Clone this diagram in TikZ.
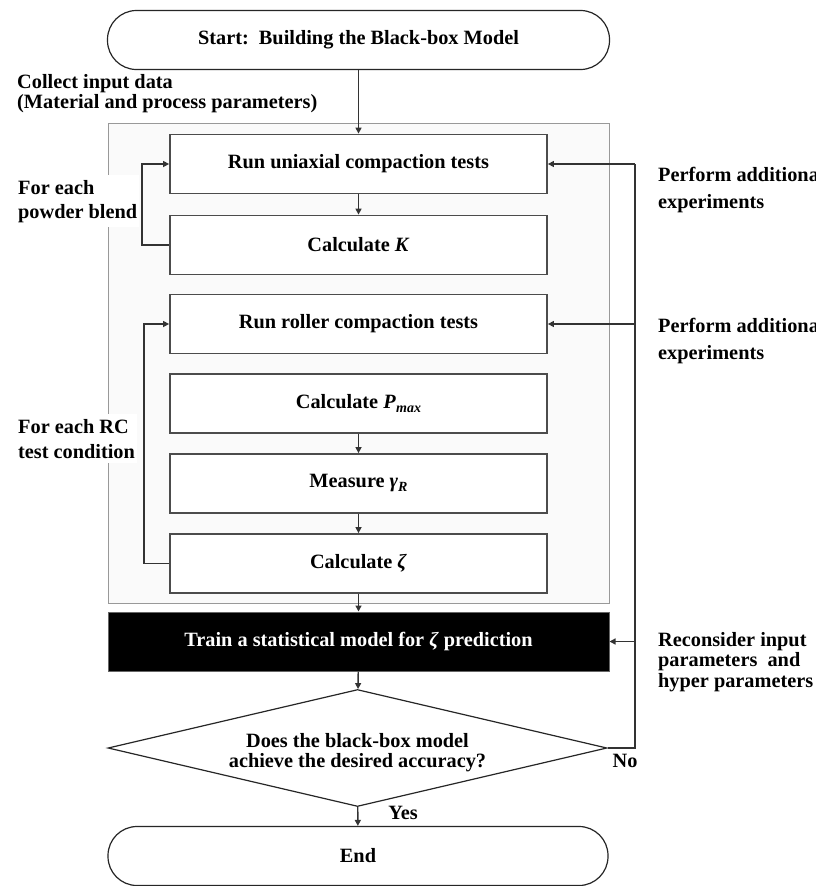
\documentclass[tikz,border=0pt]{standalone}
\usepackage{fontspec}
\setmainfont{Liberation Serif}
\usetikzlibrary{arrows.meta,shapes.geometric}
\newcommand\ff{\fontsize{20.3}{24}\selectfont\bfseries}
\newcommand\subsz[1]{\raisebox{-4pt}{\fontsize{14}{14}\selectfont #1}}
\begin{document}
\begin{tikzpicture}[x=1pt,y=-1pt,
  stepbox/.style={draw=black!70, line width=1.8pt, fill=white, minimum width=377pt, minimum height=59pt, inner sep=0pt, font=\ff},
  term/.style={draw=black!85, line width=1.2pt, rounded corners=29pt, minimum width=502pt, minimum height=59pt, fill=white, font=\ff},
  conn/.style={draw=black!80, line width=1.4pt, -{Triangle[length=6pt,width=6pt]}},
  plain/.style={draw=black!80, line width=1.4pt},
  lbl/.style={align=left, inner sep=0pt, anchor=base west}]
\useasboundingbox (0,0) rectangle (816,886);
\fill[white] (0,0) rectangle (816,886);

\node[term] (start) at (358.5,40) {Start:\ \ Building the Black-box Model};
\node[lbl, font={\fontsize{20.3}{17}\selectfont\bfseries}] (collect) at (17,108) {Collect input data\\(Material and process parameters)};

\node[draw=black!40, line width=1pt, fill=black!2, minimum width=501pt, minimum height=480pt, inner sep=0pt] (outer) at (358.5,363) {};

\node[stepbox] (b1) at (358.5,164) {Run uniaxial compaction tests};
\node[stepbox] (b2) at (358.5,245) {Calculate \textit{K}};
\node[stepbox] (b3) at (358.5,324) {Run roller compaction tests};
\node[stepbox] (b4) at (358.5,403.5) {Calculate \textit{P\kern0.5pt\subsz{max}}};
\node[stepbox] (b5) at (358.5,483.5) {Measure \textit{γ\subsz{R}}};
\node[stepbox] (b6) at (358.5,563.5) {Calculate \textit{ζ}};

\node[draw=black!60, line width=1pt, fill=black, text=white, minimum width=501pt, minimum height=59pt, inner sep=0pt, font=\ff] (train) at (358.5,641.5) {Train a statistical model for \textit{ζ} prediction};

\node[diamond, aspect=4.26, draw=black!85, line width=1.2pt, fill=white, minimum width=499pt, minimum height=117pt, inner sep=0pt] (dec) at (357.5,748) {};
\node[align=center, inner sep=0pt, font={\fontsize{20.3}{20}\selectfont\bfseries}] (dectext) at (357.5,753) {Does the black-box model\\achieve the desired accuracy?};

\node[term, minimum width=500pt] (end) at (358,856) {End};

% labels
\node[lbl, fill=white, inner xsep=2pt, inner ysep=5pt, font={\fontsize{20.3}{24}\selectfont\bfseries}] (lab1) at (16,218) {For each\\powder blend};
\node[lbl, fill=white, inner xsep=2pt, inner ysep=5pt, font={\fontsize{20.3}{25}\selectfont\bfseries}] (lab2) at (16,458) {For each RC\\test condition};
\node[lbl, font={\fontsize{20.3}{27}\selectfont\bfseries}] (lab3) at (658,208) {Perform additional\\experiments};
\node[lbl, font={\fontsize{20.3}{27}\selectfont\bfseries}] (lab4) at (658,359) {Perform additional\\experiments};
\node[lbl, font={\fontsize{20.3}{20.5}\selectfont\bfseries}] (lab5) at (658,687) {Reconsider input\\parameters\ \ and\\hyper parameters};
\node[font=\ff, inner sep=0pt] (yes) at (403,813) {Yes};
\node[font=\ff, inner sep=0pt] (no) at (625,761) {No};

% main flow
\draw[conn] (start) -- (b1);
\draw[conn] (b1) -- (b2);
\draw[conn] (b4) -- (b5);
\draw[conn] (b5) -- (b6);
\draw[conn] (b6) -- (train);
\draw[conn] (train) -- (dec);
\draw[conn] (dec) -- (end);

% left loops
\draw[conn] (b2.west) -- ++(-27,0) |- (b1.west);
\draw[conn] (b6.west) -- ++(-25,0) |- (b3.west);

% right feedback
\coordinate (rx) at (635,0);
\draw[plain] (dec.east) -- (dec.east -| rx) -- (rx |- b1.east);
\draw[conn] (rx |- b1.east) -- (b1.east);
\draw[conn] (rx |- b3.east) -- (b3.east);
\draw[conn] (rx |- train.east) -- (train.east);
\end{tikzpicture}
\end{document}
